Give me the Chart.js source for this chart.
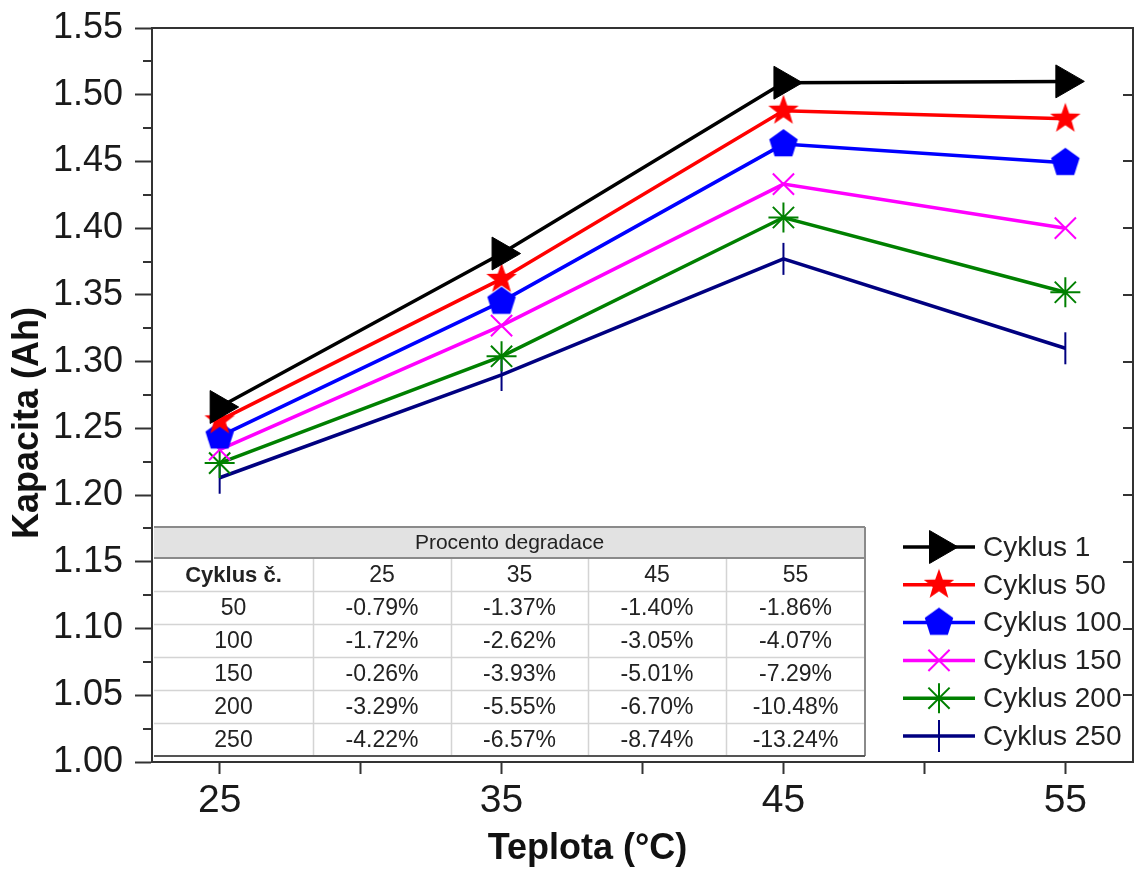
<!DOCTYPE html>
<html>
<head>
<meta charset="utf-8">
<script src="https://cdn.jsdelivr.net/npm/chart.js@4.4.1/dist/chart.umd.min.js"></script>
<style>
  html, body { margin: 0; padding: 0; background: #ffffff; }
  #wrap { width: 1136px; height: 871px; }
</style>
</head>
<body>
<div id="wrap"><canvas id="c" width="1136" height="871"></canvas></div>
<script>
// ---------------- data ----------------
const temperatures = [25, 35, 45, 55];
const seriesNames = ['Cyklus 1', 'Cyklus 50', 'Cyklus 100', 'Cyklus 150', 'Cyklus 200', 'Cyklus 250'];
const cyklus1   = [1.266, 1.381, 1.509, 1.510];
const cyklus50  = [1.256, 1.362, 1.488, 1.482];
const cyklus100 = [1.244, 1.345, 1.463, 1.449];
const cyklus150 = [1.234, 1.327, 1.433, 1.400];
const cyklus200 = [1.224, 1.304, 1.408, 1.352];
const cyklus250 = [1.213, 1.290, 1.377, 1.310];

const xTickValues = [25, 30, 35, 40, 45, 50, 55];
const xLabelValues = [25, 35, 45, 55];
const yTickValues = [1.00, 1.05, 1.10, 1.15, 1.20, 1.25, 1.30, 1.35, 1.40, 1.45, 1.50, 1.55];
const yMinorTickValues = [1.025, 1.075, 1.125, 1.175, 1.225, 1.275, 1.325, 1.375, 1.425, 1.475, 1.525];

// degradation table
const tableTitle = 'Procento degradace';
const tableHeader = ['Cyklus č.', '25', '35', '45', '55'];
const tableCycles = ['50', '100', '150', '200', '250'];
const deg25 = ['-0.79%', '-1.72%', '-0.26%', '-3.29%', '-4.22%'];
const deg35 = ['-1.37%', '-2.62%', '-3.93%', '-5.55%', '-6.57%'];
const deg45 = ['-1.40%', '-3.05%', '-5.01%', '-6.70%', '-8.74%'];
const deg55 = ['-1.86%', '-4.07%', '-7.29%', '-10.48%', '-13.24%'];

// ---------------- marker images ----------------
function makePolyStar(color, R, r, points) {
  const size = Math.ceil(2 * R + 2);
  const c = document.createElement('canvas');
  c.width = size; c.height = size;
  const g = c.getContext('2d');
  const cx = size / 2, cy = size / 2;
  g.fillStyle = color;
  g.beginPath();
  const n = r ? points * 2 : points;
  for (let i = 0; i < n; i++) {
    const ang = -Math.PI / 2 + i * 2 * Math.PI / n;
    const rad = r ? (i % 2 ? r : R) : R;
    const px = cx + rad * Math.cos(ang), py = cy + rad * Math.sin(ang);
    if (i === 0) g.moveTo(px, py); else g.lineTo(px, py);
  }
  g.closePath();
  g.fill();
  return c;
}
const redStar = makePolyStar('#ff0000', 16, 6.5, 5);
const bluePentagon = makePolyStar('#0000ff', 15, 0, 5);

const FONT = "'Liberation Sans', Arial, Helvetica, sans-serif";
const colors = ['#000000', '#ff0000', '#0000ff', '#ff00ff', '#008000', '#000080'];
const styles = [
  { pointStyle: 'triangle', rotation: 90, radius: 19, bw: 1 },
  { pointStyle: redStar, rotation: 0, radius: 16, bw: 0 },
  { pointStyle: bluePentagon, rotation: 0, radius: 15, bw: 0 },
  { pointStyle: 'crossRot', rotation: 0, radius: 15, bw: 2 },
  { pointStyle: 'star', rotation: 0, radius: 15, bw: 2 },
  { pointStyle: 'line', rotation: 90, radius: 16, bw: 2 }
];
const allSeries = [cyklus1, cyklus50, cyklus100, cyklus150, cyklus200, cyklus250];

const datasets = allSeries.map((vals, i) => ({
  label: seriesNames[i],
  data: vals.map((v, j) => ({ x: temperatures[j], y: v })),
  borderColor: colors[i],
  backgroundColor: colors[i],
  borderWidth: 3.5,
  tension: 0,
  pointStyle: styles[i].pointStyle,
  pointRotation: styles[i].rotation,
  pointRadius: styles[i].radius,
  pointHoverRadius: styles[i].radius,
  pointBorderWidth: styles[i].bw,
  pointBorderColor: colors[i],
  pointBackgroundColor: colors[i]
}));

// ---------------- plugin: frame, minor ticks, table, legend ----------------
const decorPlugin = {
  id: 'decor',
  beforeDraw(chart) {
    const ys = chart.scales.y, xs = chart.scales.x;
    if (!ys._patchedTitle) {
      const o = ys.drawTitle.bind(ys);
      ys.drawTitle = function () { const ctx = this.ctx; ctx.save(); ctx.translate(0, 28); o(); ctx.restore(); };
      ys._patchedTitle = true;
    }
    if (!xs._patchedTitle) {
      const o2 = xs.drawTitle.bind(xs);
      xs.drawTitle = function () { const ctx = this.ctx; ctx.save(); ctx.translate(-55, 0); o2(); ctx.restore(); };
      xs._patchedTitle = true;
    }
  },
  afterDraw(chart) {
    const ctx = chart.ctx;
    const ca = chart.chartArea;
    const ys = chart.scales.y;
    ctx.save();
    // top & right frame
    ctx.strokeStyle = '#333333';
    ctx.lineWidth = 2;
    ctx.beginPath();
    ctx.moveTo(ca.left, ca.top); ctx.lineTo(ca.right, ca.top); ctx.lineTo(ca.right, ca.bottom);
    ctx.stroke();
    // minor ticks on left (outward)
    ctx.lineWidth = 2;
    ctx.beginPath();
    yMinorTickValues.forEach(v => {
      const py = Math.round(ys.getPixelForValue(v));
      ctx.moveTo(ca.left - 9, py); ctx.lineTo(ca.left, py);
    });
    // right side inward ticks
    yTickValues.forEach(v => {
      const py = Math.round(ys.getPixelForValue(v));
      if (py > ca.top + 2 && py < ca.bottom - 2) { ctx.moveTo(ca.right - 10, py); ctx.lineTo(ca.right, py); }
    });
    ctx.stroke();

    // ---- table ----
    const tL = ca.left + 2, tR = 865, tTop = 527, bandB = 558, headB = 591, rowH = 33;
    const colEdges = [tL, 313, 451, 588, 726, tR];
    const tBottom = headB + rowH * tableCycles.length;
    ctx.fillStyle = '#ffffff';
    ctx.fillRect(tL, tTop, tR - tL, tBottom - tTop);
    ctx.fillStyle = '#e2e2e2';
    ctx.fillRect(tL, tTop, tR - tL, bandB - tTop);
    // inner light lines
    ctx.strokeStyle = '#d4d4d4';
    ctx.lineWidth = 1.5;
    ctx.beginPath();
    for (let i = 1; i < colEdges.length - 1; i++) {
      ctx.moveTo(colEdges[i] + 0.5, bandB); ctx.lineTo(colEdges[i] + 0.5, tBottom);
    }
    for (let r = 0; r < tableCycles.length; r++) {
      const yy = headB + r * rowH + 0.5;
      ctx.moveTo(tL, yy); ctx.lineTo(tR, yy);
    }
    ctx.stroke();
    // outer borders
    ctx.strokeStyle = '#8a8a8a';
    ctx.lineWidth = 2;
    ctx.beginPath();
    ctx.moveTo(tL, tTop); ctx.lineTo(tR, tTop);
    ctx.moveTo(tL, bandB); ctx.lineTo(tR, bandB);
    ctx.moveTo(tR, tTop); ctx.lineTo(tR, tBottom);
    ctx.stroke();
    ctx.strokeStyle = '#555555';
    ctx.beginPath();
    ctx.moveTo(tL, tBottom); ctx.lineTo(tR, tBottom);
    ctx.stroke();
    // texts
    ctx.textAlign = 'center';
    ctx.textBaseline = 'middle';
    ctx.fillStyle = '#222222';
    ctx.font = '21px ' + FONT;
    ctx.fillText(tableTitle, (tL + tR) / 2, (tTop + bandB) / 2 + 1);
    const centers = colEdges.slice(0, -1).map((e, i) => (e + colEdges[i + 1]) / 2);
    ctx.font = 'bold 22px ' + FONT;
    ctx.fillText(tableHeader[0], centers[0], (bandB + headB) / 2 + 1);
    ctx.font = '23px ' + FONT;
    for (let i = 1; i < tableHeader.length; i++) ctx.fillText(tableHeader[i], centers[i], (bandB + headB) / 2 + 1);
    const cols = [tableCycles, deg25, deg35, deg45, deg55];
    for (let r = 0; r < tableCycles.length; r++) {
      const cy = headB + r * rowH + rowH / 2 + 1;
      for (let c = 0; c < cols.length; c++) ctx.fillText(cols[c][r], centers[c], cy);
    }

    // ---- legend ----
    const lx0 = 903, lx1 = 975, mx = 939, tx = 983, ly0 = 547, lstep = 37.8;
    chart.data.datasets.forEach((ds, i) => {
      const yy = ly0 + i * lstep;
      ctx.strokeStyle = ds.borderColor;
      ctx.lineWidth = 3.5;
      ctx.beginPath(); ctx.moveTo(lx0, yy); ctx.lineTo(lx1, yy); ctx.stroke();
      ctx.fillStyle = ds.pointBackgroundColor;
      ctx.strokeStyle = ds.pointBorderColor;
      ctx.lineWidth = ds.pointBorderWidth || 0;
      if (Chart.helpers && Chart.helpers.drawPoint) {
        Chart.helpers.drawPoint(ctx, {
          pointStyle: ds.pointStyle, rotation: ds.pointRotation,
          radius: ds.pointRadius, borderWidth: ds.pointBorderWidth
        }, mx, yy);
      }
      ctx.fillStyle = '#222222';
      ctx.font = '28px ' + FONT;
      ctx.textAlign = 'left';
      ctx.textBaseline = 'middle';
      ctx.fillText(ds.label, tx, yy + 1);
    });
    ctx.restore();
  }
};

new Chart(document.getElementById('c'), {
  type: 'line',
  data: { datasets },
  options: {
    responsive: false,
    animation: false,
    devicePixelRatio: 1,
    layout: { autoPadding: false, padding: { top: 28, right: 3, left: 0, bottom: 0 } },
    plugins: { legend: { display: false }, tooltip: { enabled: false }, title: { display: false } },
    scales: {
      x: {
        type: 'linear',
        min: 22.6,
        max: 57.4,
        afterBuildTicks: (s) => { s.ticks = xTickValues.map(v => ({ value: v })); },
        afterFit: (s) => { s.height = 109; s.paddingLeft = 0; s.paddingRight = 0; },
        grid: { drawOnChartArea: false, drawTicks: true, tickLength: 12, tickColor: '#333333', tickWidth: 2 },
        border: { display: true, color: '#333333', width: 2 },
        ticks: {
          padding: 4,
          color: '#1a1a1a',
          font: { family: FONT, size: 39 },
          autoSkip: false,
          maxRotation: 0,
          callback: (v) => (xLabelValues.includes(v) ? String(v) : '')
        },
        title: {
          display: true,
          text: 'Teplota (°C)',
          color: '#111111',
          font: { family: FONT, size: 36, weight: 'bold' },
          padding: { top: 0, bottom: 0 }
        }
      },
      y: {
        type: 'linear',
        min: 1.0,
        max: 1.55,
        afterBuildTicks: (s) => { s.ticks = yTickValues.map(v => ({ value: v })); },
        afterFit: (s) => { s.width = 152; s.paddingTop = 0; s.paddingBottom = 0; },
        grid: { drawOnChartArea: false, drawTicks: true, tickLength: 17, tickColor: '#333333', tickWidth: 2 },
        border: { display: true, color: '#333333', width: 2 },
        ticks: {
          padding: 12,
          color: '#1a1a1a',
          font: { family: FONT, size: 36 },
          autoSkip: false,
          callback: (v) => Number(v).toFixed(2)
        },
        title: {
          display: true,
          text: 'Kapacita (Ah)',
          color: '#111111',
          font: { family: FONT, size: 36, weight: 'bold' },
          padding: { top: 6, bottom: 0 }
        }
      }
    }
  },
  plugins: [decorPlugin]
});
</script>
</body>
</html>
